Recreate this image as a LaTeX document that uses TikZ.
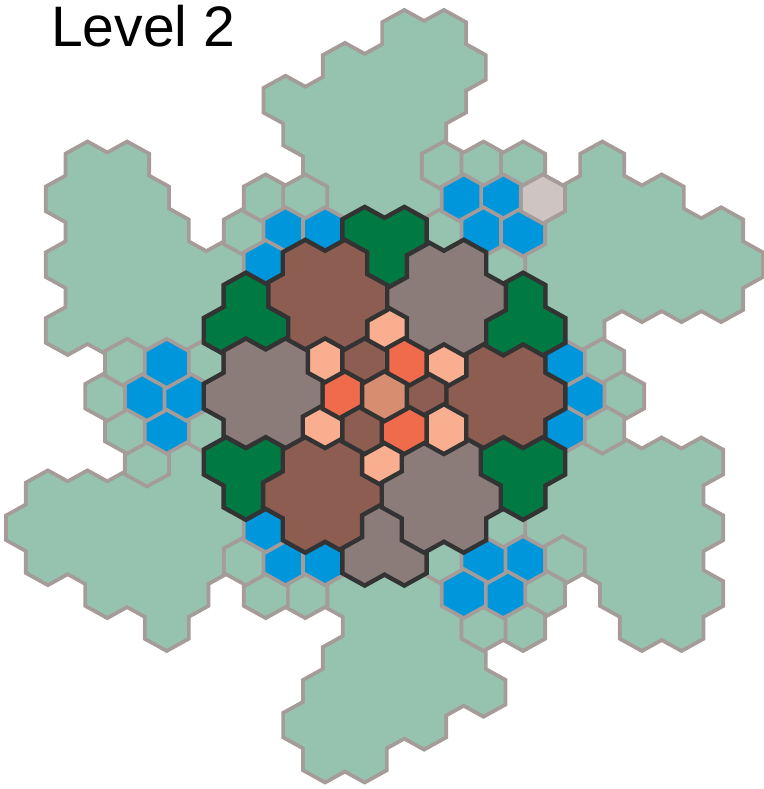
\documentclass[tikz,border=0pt]{standalone}
\usepackage{fontspec}
\setmainfont{Liberation Sans}
\definecolor{cellcolor}{RGB}{150,194,176}
\definecolor{celledge}{RGB}{165,155,152}
\definecolor{bluecolor}{RGB}{0,150,219}
\definecolor{palecolor}{RGB}{206,197,195}
\definecolor{greencolor}{RGB}{0,122,66}
\definecolor{browncolor}{RGB}{141,93,82}
\definecolor{greycolor}{RGB}{139,124,122}
\definecolor{salmoncolor}{RGB}{248,174,143}
\definecolor{redcolor}{RGB}{240,106,76}
\definecolor{tancolor}{RGB}{214,141,112}
\definecolor{coreedge}{RGB}{51,51,51}
\tikzset{
outeredge/.style={
  draw=celledge,
  line width=6.2pt
},
coreline/.style={
  draw=coreedge,
  line width=7.2pt
},
titlelabel/.style={
  font=\fontsize{42.8}{48}\selectfont,
  text=black,
  inner sep=0pt
}
}
\newcommand{\hexcell}[3]{(#1*19.8,#2*34.29) +(90:#3) -- +(30:#3) -- +(-30:#3) -- +(-90:#3) -- +(-150:#3) -- +(150:#3) -- cycle}
\newcommand{\hexgroup}[3]{%
  \foreach \ca/\cj in {#3} {\path[#2] \hexcell{\ca}{\cj}{22.86};}%
  \foreach \ca/\cj in {#3} {\fill[#1] \hexcell{\ca}{\cj}{23.2};}%
}
\newcommand{\hexsingles}[3]{%
  \foreach \ca/\cj in {#3} {\path[#2] \hexcell{\ca}{\cj}{22.86}; \fill[#1] \hexcell{\ca}{\cj}{23.2};}%
}
\begin{document}
\begin{tikzpicture}[x=0.75pt, y=0.75pt]
  \useasboundingbox (0,0) rectangle (764,789);
  \node[titlelabel, anchor=base west] (leveltitle) at (51,742) {Level 2};

  \begin{scope}[shift={(384.5,392.75)}, yscale=0.959]
    \foreach \k in {0,...,5} {
      \begin{scope}[rotate=60*\k]
        \hexgroup{cellcolor}{outeredge}{11/7,10/6,12/6,14/6,9/5,11/5,13/5,15/5,17/5,8/4,10/4,12/4,14/4,16/4,18/4,9/3,11/3,13/3,15/3,17/3,10/2}
      \end{scope}
    }
    \foreach \k in {0,1,2} {
      \begin{scope}[rotate=120*\k]
        \hexsingles{cellcolor}{outeredge}{3/7,5/7,7/7,8/6,3/5,6/4,-7/5,-6/6,-4/6}
        \hexsingles{bluecolor}{outeredge}{4/6,6/6,5/5,7/5,-5/5,-3/5,-6/4}
      \end{scope}
    }
    \hexsingles{palecolor}{outeredge}{8/6}

    \foreach \k/\flowercolor/\trefoilcolor/\ringcolor in {0/browncolor/greencolor/browncolor, 1/greycolor/greencolor/redcolor, 2/browncolor/greencolor/browncolor, 3/greycolor/greencolor/redcolor, 4/browncolor/greycolor/browncolor, 5/greycolor/greencolor/redcolor} {
      \begin{scope}[rotate=60*\k]
        \hexgroup{\flowercolor}{coreline}{6/0,4/0,8/0,5/1,7/1,5/-1,7/-1}
        \hexgroup{\trefoilcolor}{coreline}{6/2,8/2,7/3}
        \hexsingles{salmoncolor}{coreline}{3/1}
        \hexsingles{\ringcolor}{coreline}{2/0}
      \end{scope}
    }
    \hexsingles{tancolor}{coreline}{0/0}
  \end{scope}
\end{tikzpicture}
\end{document}
